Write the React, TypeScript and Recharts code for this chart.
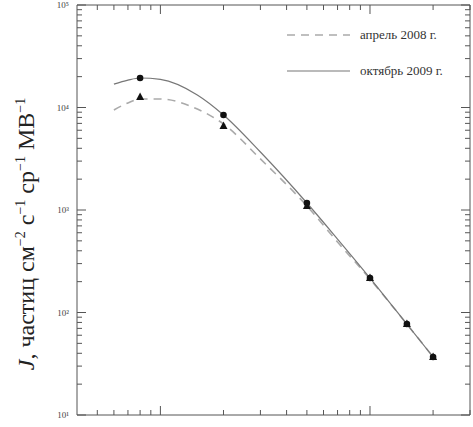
import {
  ComposedChart,
  Line,
  Scatter,
  XAxis,
  YAxis,
} from "recharts";

// energy grid (arbitrary units, decade marks at 1 and 10) and flux curves
const energy = [0.6, 0.7, 0.8, 1, 1.5, 2, 3, 5, 7, 10, 15, 20];
const oct2009 = [16900, 18500, 19400, 18800, 13250, 8450, 3680, 1170, 521, 217, 77, 36.8];
const apr2008 = [9460, 11070, 12100, 12100, 9660, 6900, 3150, 1095, 487, 212, 77, 36.8];

// measured points
const pointEnergy = [0.8, 2, 5, 10, 15, 20];
const oct2009Pts = [19400, 8450, 1170, 217, 77.3, 36.8];
const apr2008Pts = [12650, 6600, 1095, 217, 77.3, 36.8];

const seriesNames = ["апрель 2008 г.", "октябрь 2009 г."];

const xDecades = [0.1, 1, 10];
const yMajor = [10, 100, 1000, 10000, 100000];
const yMajorLabels: Record<number, string> = {
  10: "10¹",
  100: "10²",
  1000: "10³",
  10000: "10⁴",
  100000: "10⁵",
};
const minorSteps = [2, 3, 4, 5, 6, 7, 8, 9];

const xTicks: number[] = [];
xDecades.forEach((d) => {
  for (let k = 1; k < 10; k++) {
    const v = +(d * k).toPrecision(3);
    if (v >= 0.45 && v <= 30) xTicks.push(v);
  }
});

const curveOct = energy.map((e, i) => ({ e, j: oct2009[i] }));
const curveApr = energy.map((e, i) => ({ e, j: apr2008[i] }));
const ptsOct = pointEnergy.map((e, i) => ({ e, j: oct2009Pts[i] }));
const ptsApr = pointEnergy.map((e, i) => ({ e, j: apr2008Pts[i] }));

const W = 473;
const H = 427;
const TOP_H = 5;
const BOTTOM_H = 12;
const PLOT_H = H - TOP_H - BOTTOM_H;

const isMajor = (v: number) => Math.abs(Math.log10(v) - Math.round(Math.log10(v))) < 1e-6;
const TICK = "#555";
const FONT = "'Liberation Serif', 'DejaVu Serif', serif";
const nDecY = Math.log10(yMajor[yMajor.length - 1] / yMajor[0]);
const DEC_PX = PLOT_H / nDecY;

// major y tick also draws the minor ticks of the decade below it
function YTick(props: any) {
  const { x, y, payload, side } = props;
  const dir = side === "left" ? 1 : -1;
  const hasBelow = payload.value > yMajor[0] * 1.01;
  return (
    <g>
      <line x1={x} x2={x + dir * 9} y1={y} y2={y} stroke={TICK} strokeWidth={1} />
      {hasBelow &&
        minorSteps.map((k) => {
          const yy = y + (1 - Math.log10(k)) * DEC_PX;
          return <line key={k} x1={x} x2={x + dir * 5} y1={yy} y2={yy} stroke={TICK} strokeWidth={1} />;
        })}
      {side === "left" && (
        <text x={x - 8} y={y + 3} textAnchor="end" fontSize={9} style={{ fontFamily: FONT }} fill="#444">
          {yMajorLabels[Math.round(payload.value)]}
        </text>
      )}
    </g>
  );
}

function BottomTick(props: any) {
  const { x, y, payload } = props;
  const major = isMajor(payload.value);
  return <line x1={x} x2={x} y1={y} y2={y - (major ? 9 : 5)} stroke={TICK} strokeWidth={1} />;
}

function TopTick(props: any) {
  const { x, y, payload } = props;
  const major = isMajor(payload.value);
  return <line x1={x} x2={x} y1={y} y2={y + (major ? 9 : 5)} stroke={TICK} strokeWidth={1} />;
}

const Dot = (props: any) => {
  const { cx, cy } = props;
  return <circle cx={cx} cy={cy} r={3.3} fill="#111" />;
};

const Tri = (props: any) => {
  const { cx, cy } = props;
  return <path d={`M${cx},${cy - 4.5} L${cx + 4},${cy + 3} L${cx - 4},${cy + 3} Z`} fill="#111" />;
};

export default function App() {
  return (
    <div style={{ position: "absolute", left: 0, top: 0, width: W, height: H, background: "#fff" }}>
      <ComposedChart width={W} height={H} margin={{ top: 0, right: 0, bottom: 0, left: 0 }}>
        <XAxis
          xAxisId={0}
          dataKey="e"
          type="number"
          scale="log"
          domain={[0.4, 30]}
          allowDataOverflow
          ticks={xTicks}
          interval={0}
          height={BOTTOM_H}
          tickSize={0}
          tickMargin={0}
          tickLine={false}
          tick={<BottomTick />}
          stroke={TICK}
        />
        <XAxis
          xAxisId="top"
          orientation="top"
          dataKey="e"
          type="number"
          scale="log"
          domain={[0.4, 30]}
          allowDataOverflow
          ticks={xTicks}
          interval={0}
          height={TOP_H}
          tickSize={0}
          tickMargin={0}
          tickLine={false}
          tick={<TopTick />}
          stroke={TICK}
        />
        <YAxis
          yAxisId={0}
          type="number"
          scale="log"
          domain={[10, 100000]}
          allowDataOverflow
          ticks={yMajor}
          interval={0}
          width={77}
          tickSize={0}
          tickMargin={0}
          tickLine={false}
          tick={<YTick side="left" />}
          stroke={TICK}
        />
        <YAxis
          yAxisId="r"
          orientation="right"
          type="number"
          scale="log"
          domain={[10, 100000]}
          allowDataOverflow
          ticks={yMajor}
          interval={0}
          width={3}
          tickSize={0}
          tickMargin={0}
          tickLine={false}
          tick={<YTick side="right" />}
          stroke={TICK}
        />
        <Line
          data={curveApr}
          dataKey="j"
          name={seriesNames[0]}
          type="monotone"
          stroke="#aaa"
          strokeWidth={1.6}
          strokeDasharray="8 6"
          dot={false}
          isAnimationActive={false}
        />
        <Line
          data={curveOct}
          dataKey="j"
          name={seriesNames[1]}
          type="monotone"
          stroke="#777"
          strokeWidth={1.2}
          dot={false}
          isAnimationActive={false}
        />
        <Scatter data={ptsApr} dataKey="j" shape={<Tri />} isAnimationActive={false} />
        <Scatter data={ptsOct} dataKey="j" shape={<Dot />} isAnimationActive={false} />
      </ComposedChart>

      {/* axis title and legend, drawn over the chart */}
      <svg
        width={W}
        height={H}
        style={{ position: "absolute", left: 0, top: 0, pointerEvents: "none", fontFamily: FONT }}
      >
        <text transform="translate(34,234) rotate(-90)" textAnchor="middle" fontSize={24} fill="#222">
          <tspan fontStyle="italic">J</tspan>
          <tspan>, частиц см</tspan>
          <tspan dy={-9} fontSize={14}>−2</tspan>
          <tspan dy={9}> с</tspan>
          <tspan dy={-9} fontSize={14}>−1</tspan>
          <tspan dy={9}> ср</tspan>
          <tspan dy={-9} fontSize={14}>−1</tspan>
          <tspan dy={9}> МВ</tspan>
          <tspan dy={-9} fontSize={14}>−1</tspan>
        </text>
        <line x1={287} x2={350} y1={35} y2={35} stroke="#aaa" strokeWidth={1.6} strokeDasharray="8 6" />
        <text x={360} y={39} fontSize={13} fill="#333">{seriesNames[0]}</text>
        <line x1={287} x2={350} y1={71} y2={71} stroke="#777" strokeWidth={1.2} />
        <text x={360} y={75} fontSize={13} fill="#333">{seriesNames[1]}</text>
      </svg>
    </div>
  );
}
